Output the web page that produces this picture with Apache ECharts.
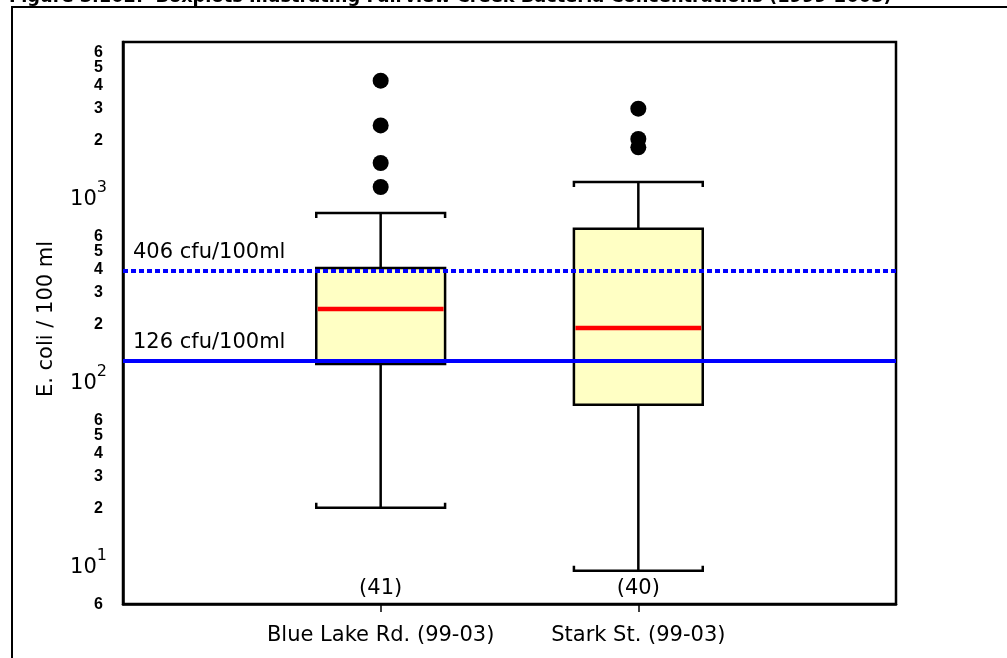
<!DOCTYPE html>
<html>
<head>
<meta charset="utf-8">
<script src="https://cdn.jsdelivr.net/npm/echarts@6/dist/echarts.min.js"></script>
<style>
  html, body { margin: 0; padding: 0; background: #fff; }
  #chartDiv { width: 1007px; height: 658px; }
</style>
</head>
<body>
<div id="chartDiv"></div>
<script>
// categories (blank slots at both ends give the 0..3 spacing of the original)
var siteNames = ['', 'Blue Lake Rd. (99-03)', 'Stark St. (99-03)', ''];
var sampleCounts = [41, 40];
// box statistics, E. coli cfu/100 ml
var whiskerLow = [20, 9.1];
var quartile1 = [121, 72.7];
var medians = [241, 190];
var quartile3 = [402, 657];
var whiskerHigh = [800, 1180];
// outliers
var outliersBlueLake = [4190, 2395, 1496, 1108];
var outliersStark = [2953, 2020, 1820];
// standards lines
var lineLabels = ['406 cfu/100ml', '126 cfu/100ml'];
var lineValues = [386, 126];
// y tick labels
var yLabelValues = [6, 10, 20, 30, 40, 50, 60, 100, 200, 300, 400, 500, 600, 1000, 2000, 3000, 4000, 5000, 6000];
var yTickValues = [10, 100, 1000];
var yMin = 6, yMax = 6800;

var FONT = 'DejaVu Sans, Verdana, sans-serif';
var FONT2 = 'Liberation Sans, Arial, sans-serif';
var lg = function (v) { return Math.log10(v); };

var myChart = echarts.init(document.getElementById('chartDiv'));

var boxData = [];
for (var i = 0; i < 2; i++) {
    boxData.push([i + 1, lg(whiskerLow[i]), lg(quartile1[i]), lg(medians[i]), lg(quartile3[i]), lg(whiskerHigh[i])]);
}
var outlierData = [];
outliersBlueLake.forEach(function (v) { outlierData.push([1, lg(v)]); });
outliersStark.forEach(function (v) { outlierData.push([2, lg(v)]); });

var countData = sampleCounts.map(function (n, i) { return { value: [i + 1, lg(yMin)], n: n }; });

/**
 * box with whiskers, serif caps and red median
 */
function renderBox(params, api) {
    var x = api.value(0);
    var pMin = api.coord([x, api.value(1)]);
    var pQ1 = api.coord([x, api.value(2)]);
    var pMed = api.coord([x, api.value(3)]);
    var pQ3 = api.coord([x, api.value(4)]);
    var pMax = api.coord([x, api.value(5)]);
    var w = api.size([1, 0])[0] * 0.5;
    var cx = pMin[0], l = cx - w / 2, r = cx + w / 2;
    var line = { stroke: '#000', lineWidth: 2.5, fill: null };
    return {
        type: 'group',
        children: [
            { type: 'line', shape: { x1: cx, y1: pMax[1], x2: cx, y2: pQ3[1] }, style: line },
            { type: 'line', shape: { x1: cx, y1: pQ1[1], x2: cx, y2: pMin[1] }, style: line },
            { type: 'rect', shape: { x: l, y: pQ3[1], width: w, height: pQ1[1] - pQ3[1] },
              style: { fill: '#ffffc4', stroke: '#000', lineWidth: 2.5 } },
            { type: 'line', shape: { x1: l + 1.5, y1: pMed[1], x2: r - 1.5, y2: pMed[1] },
              style: { stroke: '#ff0000', lineWidth: 4.5 } },
            { type: 'polyline', shape: { points: [[l, pMax[1] + 5], [l, pMax[1]], [r, pMax[1]], [r, pMax[1] + 5]] }, style: line },
            { type: 'polyline', shape: { points: [[l, pMin[1] - 5], [l, pMin[1]], [r, pMin[1]], [r, pMin[1] - 5]] }, style: line }
        ]
    };
}

var option = {
    backgroundColor: '#fff',
    animation: false,
    textStyle: { fontFamily: FONT },
    graphic: [
        {
            type: 'text', left: 9, top: -12, z: 10,
            style: { text: 'Figure 3.102:  Boxplots Illustrating Fairview Creek Bacteria Concentrations (1999-2003)',
                     fontSize: 17.8, fontWeight: 'bold', fontFamily: FONT, fill: '#000' }
        },
        {
            type: 'rect', z: 10,
            shape: { x: 12, y: 7, width: 1010, height: 700 },
            style: { fill: null, stroke: '#000', lineWidth: 2 }
        }
    ],
    grid: { left: 123, right: 111, top: 42, bottom: 54, show: true, borderColor: '#000', borderWidth: 2.5, backgroundColor: 'transparent' },
    xAxis: {
        type: 'category',
        data: siteNames,
        boundaryGap: false,
        axisLine: { lineStyle: { color: '#000', width: 2.5 } },
        axisTick: { interval: function (idx) { return idx === 1 || idx === 2; }, length: 8, lineStyle: { color: '#000', width: 1.5 } },
        axisLabel: { interval: 0, margin: 21, fontSize: 21, color: '#000', fontFamily: FONT },
        splitLine: { show: false }
    },
    yAxis: {
        type: 'value',
        min: lg(yMin),
        max: lg(yMax),
        name: 'E. coli / 100 ml',
        nameLocation: 'middle',
        nameGap: 66,
        nameTextStyle: { fontSize: 21, color: '#000', fontFamily: FONT, padding: [0, 0, 0, 8] },
        axisLine: { show: true, lineStyle: { color: '#000', width: 2.5 } },
        axisTick: { customValues: yTickValues.map(lg), length: 10, lineStyle: { color: '#000', width: 1.5 } },
        splitLine: { show: false },
        axisLabel: {
            // an empty label at the axis top keeps the "6" from being dropped as an overlapping end label
            customValues: yLabelValues.concat([yMax]).map(lg),
            hideOverlap: false,
            margin: 16,
            color: '#000',
            formatter: function (v) {
                var n = Math.round(Math.pow(10, v));
                if (yLabelValues.indexOf(n) < 0) {
                    return '';
                }
                var e = Math.round(Math.log10(n));
                if (Math.pow(10, e) === n) {
                    return '{b|10}{s|' + e + '}';
                }
                return '{m|' + String(n)[0] + '}';
            },
            rich: {
                b: { fontSize: 21, fontFamily: FONT, color: '#000', lineHeight: 30, verticalAlign: 'bottom' },
                s: { fontSize: 16, fontFamily: FONT, color: '#000', lineHeight: 30, verticalAlign: 'top' },
                m: { fontSize: 16, fontWeight: 'bold', fontFamily: FONT2, color: '#000', lineHeight: 12, padding: [2, 4, 0, 0] }
            }
        }
    },
    series: [
        {
            type: 'custom',
            renderItem: renderBox,
            data: boxData,
            z: 2
        },
        {
            type: 'scatter',
            data: outlierData,
            symbolSize: 16,
            itemStyle: { color: '#000', opacity: 1 },
            z: 4
        },
        {
            type: 'scatter',
            data: countData,
            symbolSize: 1,
            itemStyle: { color: 'transparent', opacity: 1 },
            label: {
                show: true, position: 'top', distance: 4,
                fontSize: 21, color: '#000', fontFamily: FONT,
                formatter: function (p) { return '(' + p.data.n + ')'; }
            },
            z: 5,
            markLine: {
                silent: true,
                symbol: ['none', 'none'],
                data: [
                    { yAxis: lg(lineValues[0]), lineStyle: { color: '#0000ff', width: 4, type: [5, 3] },
                      label: { formatter: lineLabels[0] } },
                    { yAxis: lg(lineValues[1]), lineStyle: { color: '#0000ff', width: 4, type: 'solid' },
                      label: { formatter: lineLabels[1] } }
                ],
                label: { position: 'insideStartTop', distance: [10, 8], fontSize: 21, color: '#000', fontFamily: FONT }
            }
        }
    ]
};

myChart.setOption(option);
</script>
</body>
</html>
